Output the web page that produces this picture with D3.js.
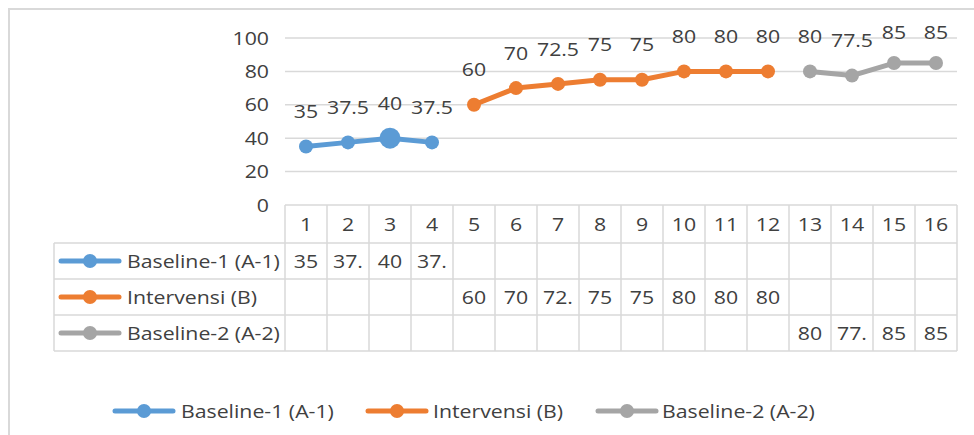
<!DOCTYPE html>
<html>
<head>
<meta charset="utf-8">
<script src="https://cdn.jsdelivr.net/npm/d3@7"></script>
<style>
  html, body { margin: 0; padding: 0; background: #fff; }
  svg text { font-family: "Open Sans", "Noto Sans", sans-serif; }
</style>
</head>
<body>
<svg id="chart" width="974" height="435"></svg>
<script>
// Session numbers along the x axis
const sessions = ["1","2","3","4","5","6","7","8","9","10","11","12","13","14","15","16"];
// Y axis ticks
const yTicks = [0, 20, 40, 60, 80, 100];
// Phase series (null where the phase does not apply)
const baseline1 = [35, 37.5, 40, 37.5, null, null, null, null, null, null, null, null, null, null, null, null];
const intervensi = [null, null, null, null, 60, 70, 72.5, 75, 75, 80, 80, 80, null, null, null, null];
const baseline2 = [null, null, null, null, null, null, null, null, null, null, null, null, 80, 77.5, 85, 85];
const seriesNames = ["Baseline-1 (A-1)", "Intervensi (B)", "Baseline-2 (A-2)"];

const series = [
  { name: seriesNames[0], values: baseline1, color: "#5B9BD5" },
  { name: seriesNames[1], values: intervensi, color: "#ED7D31" },
  { name: seriesNames[2], values: baseline2, color: "#A5A5A5" }
];

const svg = d3.select("#chart");
const gridColor = "#d9d9d9";
const textColor = "#404040";
const fontSize = 19;
const widen = 1.12; // slightly wide lettering

// Put a text at (px, py) with the widened lettering
function label(g, px, py, str, anchor) {
  return g.append("text")
    .attr("transform", `translate(${px},${py}) scale(${widen},1)`)
    .attr("dy", "0.35em")
    .attr("text-anchor", anchor || "start")
    .attr("font-size", fontSize).attr("fill", textColor)
    .text(str);
}

// Outer frame (left and top edges)
svg.append("path")
  .attr("d", "M9,435 L9,9 L974,9")
  .attr("fill", "none").attr("stroke", gridColor).attr("stroke-width", 2);

const x = d3.scaleBand().domain(sessions).range([285, 957]).padding(0);
const y = d3.scaleLinear().domain([0, 100]).range([205, 38]);

// Horizontal gridlines
svg.append("g").selectAll("line").data(yTicks.filter(t => t > 0)).join("line")
  .attr("x1", 285).attr("x2", 957)
  .attr("y1", d => y(d)).attr("y2", d => y(d))
  .attr("stroke", gridColor).attr("stroke-width", 1.5);

// Y axis labels
const yg = svg.append("g");
y.ticks(yTicks.length - 1).forEach(t => label(yg, 269, y(t), t, "end"));

// Data table
const rowTop = 205, headerH = 38, rowH = 36;
const tableLeft = 54;
const rowY = i => rowTop + headerH + i * rowH; // top of value row i
const tableBottom = rowY(series.length);
const tg = svg.append("g");

// vertical lines for data columns
const colEdges = sessions.map(s => x(s)).concat([x(sessions[sessions.length - 1]) + x.bandwidth()]);
tg.selectAll("line.v").data(colEdges).join("line").attr("class", "v")
  .attr("x1", d => d).attr("x2", d => d).attr("y1", rowTop).attr("y2", tableBottom)
  .attr("stroke", gridColor).attr("stroke-width", 1.5);
// legend column left edge
tg.append("line").attr("x1", tableLeft).attr("x2", tableLeft)
  .attr("y1", rowY(0)).attr("y2", tableBottom).attr("stroke", gridColor).attr("stroke-width", 1.5);
// horizontal lines
tg.append("line").attr("x1", 285).attr("x2", 957).attr("y1", rowTop).attr("y2", rowTop)
  .attr("stroke", gridColor).attr("stroke-width", 1.5);
tg.selectAll("line.h").data(d3.range(series.length + 1)).join("line").attr("class", "h")
  .attr("x1", tableLeft).attr("x2", 957)
  .attr("y1", d => rowY(d)).attr("y2", d => rowY(d))
  .attr("stroke", gridColor).attr("stroke-width", 1.5);

// header: session numbers
sessions.forEach(s => label(tg, x(s) + x.bandwidth() / 2, rowTop + headerH / 2, s, "middle"));

// legend key drawer
function legendKey(g, cx, cy, color) {
  g.append("line").attr("x1", cx - 29).attr("x2", cx + 29).attr("y1", cy).attr("y2", cy)
    .attr("stroke", color).attr("stroke-width", 5).attr("stroke-linecap", "round");
  g.append("circle").attr("cx", cx).attr("cy", cy).attr("r", 7).attr("fill", color);
}

// table rows: key, name, truncated values
series.forEach((s, i) => {
  const cy = rowY(i) + rowH / 2;
  legendKey(tg, 90, cy, s.color);
  label(tg, 127, cy, s.name);
  s.values.forEach((v, j) => {
    if (v == null) return;
    label(tg, x(sessions[j]) + x.bandwidth() / 2, cy, String(v).slice(0, 3), "middle");
  });
});

// Lines, markers and data labels
const cx = i => x(sessions[i]) + x.bandwidth() / 2;
const line = d3.line().defined(d => d != null).x((d, i) => cx(i)).y(d => y(d));
series.forEach((s, si) => {
  const g = svg.append("g");
  g.append("path").attr("d", line(s.values)).attr("fill", "none")
    .attr("stroke", s.color).attr("stroke-width", 5).attr("stroke-linejoin", "round");
  s.values.forEach((v, i) => {
    if (v == null) return;
    const big = si === 0 && i === 2; // emphasised session
    g.append("circle").attr("cx", cx(i)).attr("cy", y(v)).attr("r", big ? 10.5 : 7).attr("fill", s.color);
    label(g, cx(i), Math.max(y(v) - 35, 32), v, "middle");
  });
});

// Bottom legend
const legendItems = [
  { x: 144, tx: 181 },
  { x: 397, tx: 433 },
  { x: 627, tx: 662 }
];
const lg = svg.append("g");
series.forEach((s, i) => {
  legendKey(lg, legendItems[i].x, 411, s.color);
  label(lg, legendItems[i].tx, 411, s.name);
});
</script>
</body>
</html>
